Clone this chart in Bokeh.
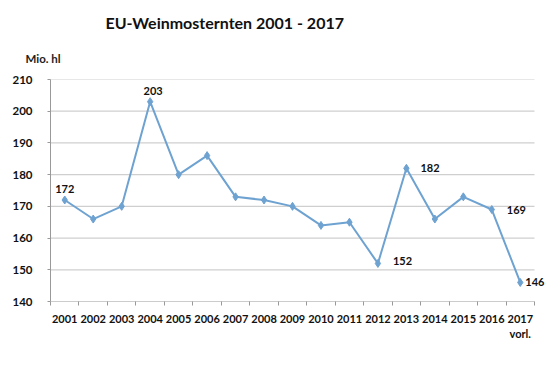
from bokeh.plotting import figure
from bokeh.models import FixedTicker, Range1d, Title, ColumnDataSource, LabelSet
from bokeh.core.properties import value
from bokeh.embed import file_html
from bokeh.resources import INLINE

years = ["2001", "2002", "2003", "2004", "2005", "2006", "2007", "2008", "2009",
         "2010", "2011", "2012", "2013", "2014", "2015", "2016", "2017"]
tick_labels = years[:-1] + ["2017\nvorl."]
harvest = [172, 166, 170, 203, 180, 186, 173, 172, 170, 164, 165, 152, 182, 166, 173, 169, 146]
labelled_years = ["2001", "2004", "2013", "2012", "2016", "2017"]
y_ticks = [140, 150, 160, 170, 180, 190, 200, 210]

FONT = "Lato"
BLUE = "#6ea2d1"
GRID = "#cfcfcf"
AXIS = "#999999"

xs = list(range(1, len(years) + 1))
x_lo, x_hi = 0.5, len(years) + 0.5

# plot area spans 50..534 px for the categories; extra room on the right for the last label
W, LEFT, AREA = 550, 50, 484
x_end = x_lo + (W - LEFT) * (x_hi - x_lo) / AREA

p = figure(width=W, height=365, output_backend="svg", toolbar_location=None,
           x_range=Range1d(x_lo, x_end), y_range=Range1d(y_ticks[0], y_ticks[-1]),
           min_border_left=LEFT, min_border_right=0, min_border_bottom=64, min_border_top=0)
p.outline_line_color = None
p.background_fill_color = "white"
p.border_fill_color = "white"

# titles
sub = Title(text="Mio. hl", align="left", offset=-25, text_font=FONT,
            text_font_size="11.5px", text_font_style="bold", text_color="#222222", standoff=29)
p.add_layout(sub, "above")
main = Title(text="EU-Weinmosternten 2001 - 2017", align="left", offset=55, text_font=FONT,
             text_font_size="16px", text_font_style="bold", text_color="#111111", standoff=7)
p.add_layout(main, "above")
spacer = Title(text=" ", text_font_size="1px", standoff=4)
p.add_layout(spacer, "above")

# gridlines and x-axis line limited to the category span
p.segment(x0=[x_lo] * len(y_ticks), x1=[x_hi] * len(y_ticks), y0=y_ticks, y1=y_ticks,
          line_color=[AXIS] + [GRID] * (len(y_ticks) - 1), line_width=1.2)

# axes
p.xaxis.ticker = FixedTicker(ticks=xs, minor_ticks=[x - 0.5 for x in xs] + [xs[-1] + 0.5])
p.xaxis.major_label_overrides = {x: t for x, t in zip(xs, tick_labels)}
p.xaxis.major_tick_line_color = None
p.xaxis.minor_tick_line_color = AXIS
p.xaxis.minor_tick_out = 4
p.xaxis.minor_tick_in = 0
p.xaxis.axis_line_color = None
p.xaxis.major_label_standoff = 4
p.xaxis.major_label_text_font = FONT
p.xaxis.major_label_text_font_size = "11px"
p.xaxis.major_label_text_font_style = "bold"
p.xaxis.major_label_text_color = "#111111"

p.yaxis.ticker = FixedTicker(ticks=y_ticks)
p.yaxis.axis_line_color = AXIS
p.yaxis.major_tick_line_color = AXIS
p.yaxis.major_tick_out = 3
p.yaxis.major_tick_in = 0
p.yaxis.minor_tick_line_color = None
p.yaxis.major_label_standoff = 15
p.yaxis.major_label_text_font = FONT
p.yaxis.major_label_text_font_size = "11.5px"
p.yaxis.major_label_text_font_style = "bold"
p.yaxis.major_label_text_color = "#111111"

p.xgrid.grid_line_color = None
p.ygrid.grid_line_color = None

src = ColumnDataSource(dict(x=xs, y=harvest))
p.line("x", "y", source=src, line_color=BLUE, line_width=2)
p.scatter("x", "y", source=src, marker="diamond", size=8, fill_color=BLUE, line_color=BLUE)

# data labels (offsets in screen pixels, positive dy = up)
offsets = {"2001": (0, 11, "center"), "2004": (3, 11, "center"),
           "2013": (14, 0, "left"), "2012": (15, 2, "left"),
           "2016": (15, 0, "left"), "2017": (5, 0, "left")}
lx, ly, lt, dx, dy, al = [], [], [], [], [], []
for yr in labelled_years:
    i = years.index(yr)
    lx.append(xs[i]); ly.append(harvest[i]); lt.append(str(harvest[i]))
    ox, oy, a = offsets[yr]
    dx.append(ox); dy.append(oy); al.append(a)
lsrc = ColumnDataSource(dict(x=lx, y=ly, t=lt, dx=dx, dy=dy, al=al))
labels = LabelSet(x="x", y="y", text="t", source=lsrc, x_offset="dx", y_offset="dy",
                  text_align="al", text_baseline="middle", text_font=value(FONT),
                  text_font_size=value("11px"), text_font_style=value("bold"),
                  text_color=value("#111111"))
p.add_layout(labels)

open("out.html", "w").write(file_html(p, INLINE))
